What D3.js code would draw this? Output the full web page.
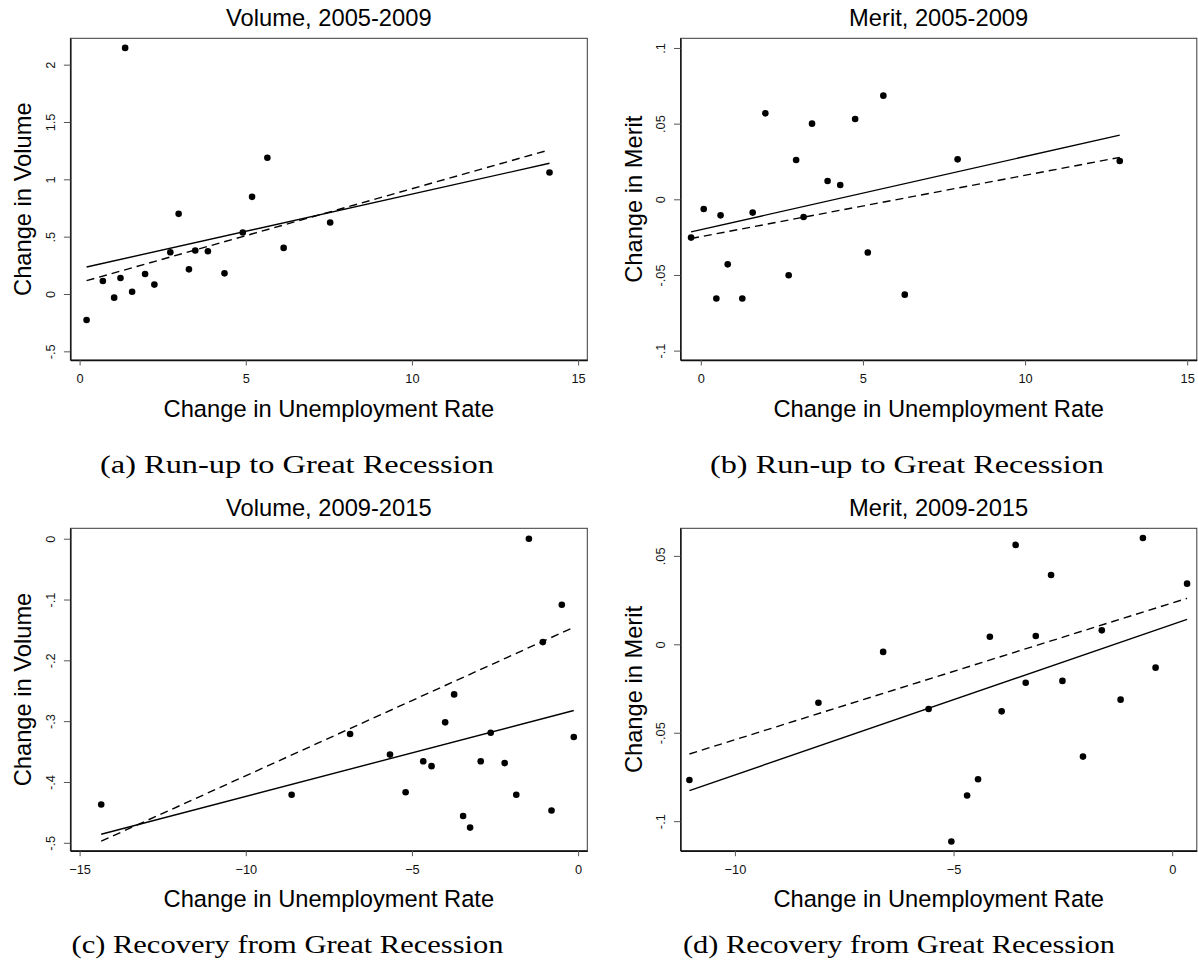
<!DOCTYPE html>
<html>
<head>
<meta charset="utf-8">
<script src="https://cdn.jsdelivr.net/npm/d3@7"></script>
<style>
  html, body { margin: 0; padding: 0; background: #fff; }
  svg { display: block; }
  .sans { font-family: "Liberation Sans", Arial, Helvetica, sans-serif; }
  .serif { font-family: "Liberation Serif", "Times New Roman", serif; }
</style>
</head>
<body>
<svg id="chart" width="1198" height="968"></svg>
<script>
// ---- Data -------------------------------------------------------------
const titles = ["Volume, 2005-2009", "Merit, 2005-2009", "Volume, 2009-2015", "Merit, 2009-2015"];
const yLabels = ["Change in Volume", "Change in Merit", "Change in Volume", "Change in Merit"];
const xLabel = "Change in Unemployment Rate";
const captions = [
  "(a) Run-up to Great Recession",
  "(b) Run-up to Great Recession",
  "(c) Recovery from Great Recession",
  "(d) Recovery from Great Recession"
];

// Change in unemployment rate (x) and outcome change (y), one point per state group
const volumeRunupX = [0.21, 0.70, 1.04, 1.23, 1.37, 1.58, 1.97, 2.25, 2.73, 2.98, 3.29, 3.48, 3.86, 4.36, 4.91, 5.19, 5.65, 6.14, 7.54, 14.14];
const volumeRunupY = [-0.227, 0.114, -0.032, 0.14, 2.146, 0.02, 0.175, 0.082, 0.364, 0.699, 0.215, 0.379, 0.373, 0.18, 0.536, 0.847, 1.188, 0.402, 0.623, 1.06];

const meritRunupX = [-0.30, 0.09, 0.48, 0.61, 0.83, 1.28, 1.60, 1.99, 2.71, 2.94, 3.17, 3.43, 3.91, 4.30, 4.76, 5.15, 5.63, 6.29, 7.92, 12.92];
const meritRunupY = [-0.0253, -0.0064, -0.0656, -0.0106, -0.043, -0.0656, -0.0088, 0.0568, -0.0502, 0.026, -0.0117, 0.050, 0.0121, 0.0095, 0.0531, -0.0352, 0.0685, -0.063, 0.0264, 0.0253];

const volumeRecoveryX = [-14.35, -8.62, -6.86, -5.66, -5.19, -4.66, -4.41, -4.00, -3.73, -3.46, -3.25, -2.93, -2.63, -2.21, -1.86, -1.48, -1.06, -0.80, -0.49, -0.13];
const volumeRecoveryY = [-0.437, -0.421, -0.321, -0.355, -0.417, -0.366, -0.374, -0.302, -0.256, -0.456, -0.475, -0.366, -0.319, -0.369, -0.421, 0.0, -0.170, -0.447, -0.1086, -0.326];

const meritRecoveryX = [-11.04, -8.09, -6.61, -5.57, -5.05, -4.69, -4.44, -4.17, -3.90, -3.58, -3.35, -3.12, -2.77, -2.51, -2.04, -1.61, -1.18, -0.67, -0.38, 0.34];
const meritRecoveryY = [-0.0767, -0.033, -0.0043, -0.0366, -0.1115, -0.0855, -0.0763, 0.0043, -0.0379, 0.0562, -0.0217, 0.0047, 0.0392, -0.0207, -0.0635, 0.0079, -0.0313, 0.0601, -0.0132, 0.0343];

// Fitted lines: [intercept, slope] for the solid and the dashed fit in each panel
const solidFits = [[0.222, 0.0649], [-0.0201, 0.004837], [-0.2807, 0.0143], [0.01124, 0.008508]];
const dashedFits = [[0.099, 0.0819], [-0.0247, 0.004057], [-0.1425, 0.02473], [0.02337, 0.007733]];

// Axis ranges and ticks
const xDomains = [[-0.277, 15.277], [-0.626, 15.296], [-15.277, 0.277], [-11.244, 0.5625]];
const yDomains = [[-0.5755, 2.2297], [-0.1062, 0.1064], [-0.513, 0.0171], [-0.1167, 0.0656]];

const xTicksRunup = [0, 5, 10, 15];
const xTicksVolumeRecovery = [-15, -10, -5, 0];
const xTicksMeritRecovery = [-10, -5, 0];

const yTicksVolumeRunup = [-0.5, 0, 0.5, 1, 1.5, 2];
const yTickLabelsVolumeRunup = ["-.5", "0", ".5", "1", "1.5", "2"];
const yTicksMeritRunup = [-0.1, -0.05, 0, 0.05, 0.1];
const yTickLabelsMeritRunup = ["-.1", "-.05", "0", ".05", ".1"];
const yTicksVolumeRecovery = [-0.5, -0.4, -0.3, -0.2, -0.1, 0];
const yTickLabelsVolumeRecovery = ["-.5", "-.4", "-.3", "-.2", "-.1", "0"];
const yTicksMeritRecovery = [-0.1, -0.05, 0, 0.05];
const yTickLabelsMeritRecovery = ["-.1", "-.05", "0", ".05"];

// ---- Layout -----------------------------------------------------------
const colLeft = [70.4, 680.5];
const colRight = [587.3, 1196.8];
const rowTop = [38.3, 528.3];
const rowBottom = [360, 850.7];

const captionCenters = [297, 907, 287.5, 899];
const captionBaselines = [472.7, 472.7, 953.3, 953.3];
const captionWidths = [394, 394, 432, 432];

const panels = [
  { xs: volumeRunupX, ys: volumeRunupY, xTicks: xTicksRunup, yTicks: yTicksVolumeRunup, yTickLabels: yTickLabelsVolumeRunup, col: 0, row: 0 },
  { xs: meritRunupX, ys: meritRunupY, xTicks: xTicksRunup, yTicks: yTicksMeritRunup, yTickLabels: yTickLabelsMeritRunup, col: 1, row: 0 },
  { xs: volumeRecoveryX, ys: volumeRecoveryY, xTicks: xTicksVolumeRecovery, yTicks: yTicksVolumeRecovery, yTickLabels: yTickLabelsVolumeRecovery, col: 0, row: 1 },
  { xs: meritRecoveryX, ys: meritRecoveryY, xTicks: xTicksMeritRecovery, yTicks: yTicksMeritRecovery, yTickLabels: yTickLabelsMeritRecovery, col: 1, row: 1 }
];

const svg = d3.select("#chart");

panels.forEach((p, i) => {
  const left = colLeft[p.col], right = colRight[p.col];
  const top = rowTop[p.row], bottom = rowBottom[p.row];

  const x = d3.scaleLinear().domain(xDomains[i]).range([left, right]);
  const y = d3.scaleLinear().domain(yDomains[i]).range([bottom, top]);

  const g = svg.append("g");

  // plot region border
  g.append("rect")
    .attr("x", left).attr("y", top)
    .attr("width", right - left).attr("height", bottom - top)
    .attr("fill", "none").attr("stroke", "#3a3a3a").attr("stroke-width", 1);

  // y axis with vertical tick labels
  const yAxis = d3.axisLeft(y)
    .tickValues(p.yTicks)
    .tickFormat((d, k) => p.yTickLabels[k])
    .tickSize(6.5).tickSizeOuter(0);
  const ya = g.append("g").attr("transform", `translate(${left},0)`).call(yAxis);
  ya.select(".domain").attr("stroke", "#111").attr("stroke-width", 1.4);
  ya.selectAll(".tick line").attr("stroke", "#555").attr("stroke-width", 1);
  ya.selectAll(".tick text")
    .attr("class", "sans")
    .attr("font-size", 12.8)
    .attr("fill", "#111")
    .attr("transform", "rotate(-90)")
    .attr("x", 0).attr("y", -15.4).attr("dy", null)
    .attr("text-anchor", "middle");

  // x axis
  const xAxis = d3.axisBottom(x)
    .tickValues(p.xTicks)
    .tickFormat(d3.format("d"))
    .tickSize(5.5).tickSizeOuter(0);
  const xa = g.append("g").attr("transform", `translate(0,${bottom})`).call(xAxis);
  xa.select(".domain").attr("stroke", "#111").attr("stroke-width", 1.6);
  xa.selectAll(".tick line").attr("stroke", "#555").attr("stroke-width", 1);
  xa.selectAll(".tick text")
    .attr("class", "sans")
    .attr("font-size", 12.8)
    .attr("fill", "#111")
    .attr("y", 23.3).attr("dy", null);

  // fitted lines over the observed x range
  const [xmin, xmax] = d3.extent(p.xs);
  const line = d3.line().x(d => x(d[0])).y(d => y(d[1]));
  const fitPoints = f => [xmin, xmax].map(v => [v, f[0] + f[1] * v]);

  g.append("path")
    .attr("d", line(fitPoints(solidFits[i])))
    .attr("fill", "none").attr("stroke", "#000").attr("stroke-width", 1.4);
  g.append("path")
    .attr("d", line(fitPoints(dashedFits[i])))
    .attr("fill", "none").attr("stroke", "#000").attr("stroke-width", 1.4)
    .attr("stroke-dasharray", "8,5");

  // scatter points
  g.selectAll("circle.pt")
    .data(d3.range(p.xs.length))
    .join("circle")
    .attr("class", "pt")
    .attr("cx", k => x(p.xs[k]))
    .attr("cy", k => y(p.ys[k]))
    .attr("r", 3.3)
    .attr("fill", "#000");

  // titles and axis labels
  g.append("text").attr("class", "sans")
    .attr("x", (left + right) / 2).attr("y", top - 12)
    .attr("text-anchor", "middle").attr("font-size", 23.7).attr("fill", "#000")
    .text(titles[i]);

  g.append("text").attr("class", "sans")
    .attr("x", (left + right) / 2).attr("y", bottom + 56.7)
    .attr("text-anchor", "middle").attr("font-size", 23.7).attr("fill", "#000")
    .text(xLabel);

  g.append("text").attr("class", "sans")
    .attr("transform", `translate(${left - 39},${(top + bottom) / 2}) rotate(-90)`)
    .attr("text-anchor", "middle").attr("font-size", 23.7).attr("fill", "#000")
    .text(yLabels[i]);

  // sub-figure caption
  g.append("text").attr("class", "serif")
    .attr("x", captionCenters[i] - captionWidths[i] / 2)
    .attr("y", captionBaselines[i])
    .attr("font-size", 26).attr("fill", "#000")
    .attr("textLength", captionWidths[i])
    .attr("lengthAdjust", "spacingAndGlyphs")
    .text(captions[i]);
});
</script>
</body>
</html>
